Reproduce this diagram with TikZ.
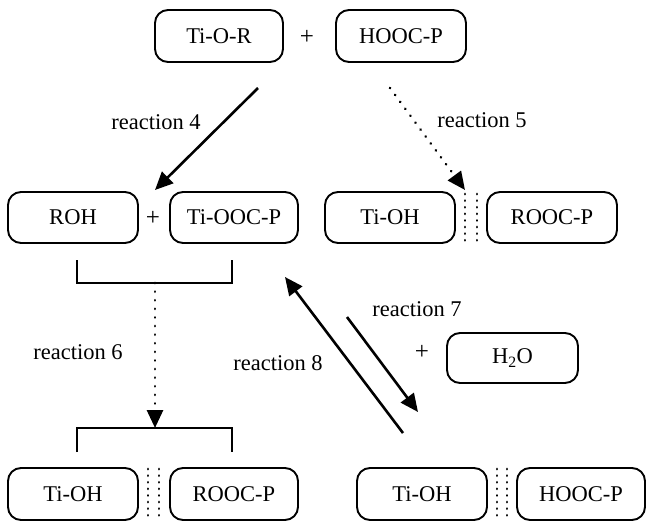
\documentclass[tikz,border=0pt]{standalone}
\usepackage{fontspec}
\setmainfont{Liberation Serif}
\usetikzlibrary{arrows.meta}
\tikzset{
  box/.style={draw, line width=1.9pt, rounded corners=13pt, minimum width=130pt, minimum height=51pt, inner sep=0pt, font=\fontsize{22.5}{26}\selectfont},
  txt/.style={inner sep=0pt, font=\fontsize{22.5}{26}\selectfont},
  plus/.style={inner sep=0pt, font=\fontsize{25}{26}\selectfont},
  solidarrow/.style={line width=2.6pt, -{Triangle[length=18pt,width=16pt]}},
  dotarrow/.style={line width=2.8pt, dash pattern=on 0.1pt off 8.5pt, line cap=round, -{Triangle[length=18pt,width=16pt]}},
  dbldots/.style={line width=2.8pt, dash pattern=on 0.1pt off 6.5pt, line cap=round},
  bracket/.style={line width=1.9pt}
}
\begin{document}
\begin{tikzpicture}[x=1pt,y=-1pt]
\useasboundingbox (0,0) rectangle (646,525);
% top row
\node[box, minimum width=128pt, minimum height=52pt] (tior) at (219,36) {Ti-O-R};
\node[plus] (p1) at (307,37) {+};
\node[box, minimum width=130pt, minimum height=52pt] (hooc) at (401,36) {HOOC-P};
% middle row
\node[box] (roh) at (73,217.5) {ROH};
\node[plus] (p2) at (153,218) {+};
\node[box, minimum width=128pt] (tiooc) at (234,217.5) {Ti-OOC-P};
\node[box] (tioh1) at (390,217.5) {Ti-OH};
\node[box] (rooc1) at (552,217.5) {ROOC-P};
% water
\node[plus] (p3) at (422,352) {+};
\node[box, minimum width=131pt, minimum height=50pt] (h2o) at (512.5,358) {H\textsubscript{2}O};
% bottom row
\node[box, minimum height=52pt] (tioh2) at (73,494) {Ti-OH};
\node[box, minimum width=128pt, minimum height=52pt] (rooc2) at (234,494) {ROOC-P};
\node[box, minimum height=52pt] (tioh3) at (422,494) {Ti-OH};
\node[box, minimum width=128pt, minimum height=52pt] (hooc2) at (581,494) {HOOC-P};
% labels
\node[txt] (r4) at (156,122) {reaction 4};
\node[txt] (r5) at (482,120) {reaction 5};
\node[txt] (r6) at (78,352) {reaction 6};
\node[txt] (r7) at (417,309) {reaction 7};
\node[txt] (r8) at (278,363) {reaction 8};
% double dotted separators
\coordinate (d1a) at (465,194); \coordinate (d1b) at (465,243);
\coordinate (d2a) at (477,194); \coordinate (d2b) at (477,243);
\draw[dbldots] (d1a) -- (d1b);
\draw[dbldots] (d2a) -- (d2b);
\coordinate (d3a) at (148,469); \coordinate (d3b) at (148,520);
\coordinate (d4a) at (159,469); \coordinate (d4b) at (159,520);
\draw[dbldots] (d3a) -- (d3b);
\draw[dbldots] (d4a) -- (d4b);
\coordinate (d5a) at (497,469); \coordinate (d5b) at (497,520);
\coordinate (d6a) at (507,469); \coordinate (d6b) at (507,520);
\draw[dbldots] (d5a) -- (d5b);
\draw[dbldots] (d6a) -- (d6b);
% brackets
\coordinate (b1l) at (77,260); \coordinate (b1r) at (232,260);
\coordinate (b1m) at (155,283);
\draw[bracket] (b1l) -- (77,283) -- (232,283) -- (b1r);
\coordinate (b2l) at (77,452); \coordinate (b2r) at (232,452);
\coordinate (b2m) at (155,428);
\draw[bracket] (b2l) -- (77,428) -- (232,428) -- (b2r);
% arrows
\coordinate (a4s) at (258,88); \coordinate (a4e) at (155,190);
\draw[solidarrow] (a4s) -- (a4e);
\coordinate (a5s) at (390,88); \coordinate (a5e) at (465,190);
\draw[dotarrow] (a5s) -- (a5e);
\draw[dotarrow] (b1m) -- (b2m);
\coordinate (a7s) at (347,317); \coordinate (a7e) at (418,412);
\draw[solidarrow] (a7s) -- (a7e);
\coordinate (a8s) at (403,433); \coordinate (a8e) at (285,277);
\draw[solidarrow] (a8s) -- (a8e);
\end{tikzpicture}
\end{document}
